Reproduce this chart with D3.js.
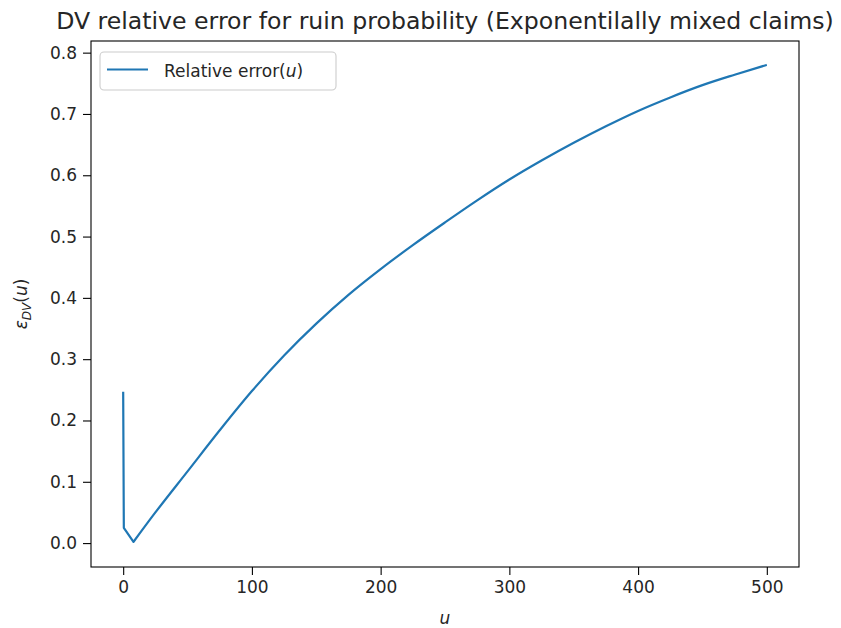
<!DOCTYPE html>
<html>
<head>
<meta charset="utf-8">
<script src="https://cdn.jsdelivr.net/npm/d3@7"></script>
<style>
  body { margin: 0; background: #fff; }
  svg { display: block; }
  text { font-family: "DejaVu Sans", sans-serif; fill: #262626; }
</style>
</head>
<body>
<svg id="chart" width="841" height="628"></svg>
<script>
// Data
const uValues = [0, 0.5, 8, 25, 50, 75, 100, 125, 150, 175, 200, 225, 250, 275, 300, 325, 350, 375, 400, 425, 450, 475, 500];
const errValues = [0.247, 0.025, 0.002, 0.050, 0.117, 0.184, 0.248, 0.306, 0.358, 0.405, 0.447, 0.486, 0.523, 0.559, 0.593, 0.624, 0.653, 0.680, 0.705, 0.727, 0.747, 0.764, 0.780];
const xTicks = [0, 100, 200, 300, 400, 500];
const yTicks = [0.0, 0.1, 0.2, 0.3, 0.4, 0.5, 0.6, 0.7, 0.8];
const titleText = "DV relative error for ruin probability (Exponentilally mixed claims)";
const legendLabel = "Relative error";

const svg = d3.select("#chart");
const pLeft = 91, pRight = 799, pTop = 41, pBottom = 567;

const x = d3.scaleLinear().domain([-25, 525]).range([pLeft, pRight]);
const y = d3.scaleLinear().domain([-0.039, 0.819]).range([pBottom, pTop]);

const data = uValues.map((u, i) => ({u, e: errValues[i]}));
const kinkIdx = 2; // sharp corners up to the minimum, smooth afterwards

const linPart = d3.line().x(d => x(d.u)).y(d => y(d.e))(data.slice(0, kinkIdx + 1));
const smoothPart = d3.line().curve(d3.curveMonotoneX).x(d => x(d.u)).y(d => y(d.e))(data.slice(kinkIdx));

svg.append("path")
  .attr("fill", "none")
  .attr("stroke", "#1f77b4")
  .attr("stroke-width", 2.2)
  .attr("stroke-linejoin", "round")
  .attr("d", linPart + "L" + smoothPart.slice(1));

// axes
const xAxis = svg.append("g").attr("transform", `translate(0,${pBottom})`)
  .call(d3.axisBottom(x).tickValues(xTicks).tickSize(8).tickPadding(6).tickFormat(d3.format("d")));
const yAxis = svg.append("g").attr("transform", `translate(${pLeft},0)`)
  .call(d3.axisLeft(y).tickValues(yTicks).tickSize(8).tickPadding(6).tickFormat(d3.format(".1f")));
[xAxis, yAxis].forEach(g => {
  g.select(".domain").remove();
  g.selectAll(".tick line").attr("stroke", "#000").attr("stroke-width", 1.1);
  g.selectAll(".tick text").attr("font-size", 17).attr("font-family", "DejaVu Sans").attr("fill", "#262626");
});

// frame
svg.append("rect")
  .attr("x", pLeft).attr("y", pTop)
  .attr("width", pRight - pLeft).attr("height", pBottom - pTop)
  .attr("fill", "none").attr("stroke", "#000").attr("stroke-width", 1.1);

// title
svg.append("text")
  .attr("x", (pLeft + pRight) / 2).attr("y", 29)
  .attr("text-anchor", "middle")
  .attr("font-size", 23.6)
  .text(titleText);

// x label
svg.append("text")
  .attr("x", (pLeft + pRight) / 2).attr("y", 624)
  .attr("text-anchor", "middle")
  .attr("font-size", 17)
  .attr("font-style", "italic")
  .text("u");

// y label
const yl = svg.append("text")
  .attr("transform", `translate(27,${(pTop + pBottom) / 2}) rotate(-90)`)
  .attr("text-anchor", "middle")
  .attr("font-size", 17);
yl.append("tspan").attr("font-style", "italic").text("ε");
yl.append("tspan").attr("font-style", "italic").attr("font-size", 12).attr("dy", 4).text("DV");
yl.append("tspan").attr("dy", -4).text("(");
yl.append("tspan").attr("font-style", "italic").text("u");
yl.append("tspan").text(")");

// legend
const lg = svg.append("g");
lg.append("rect")
  .attr("x", 100).attr("y", 52).attr("width", 236).attr("height", 38)
  .attr("rx", 4).attr("ry", 4)
  .attr("fill", "#fff").attr("fill-opacity", 0.8)
  .attr("stroke", "#cccccc").attr("stroke-width", 1.1);
lg.append("line")
  .attr("x1", 107).attr("x2", 148).attr("y1", 69.5).attr("y2", 69.5)
  .attr("stroke", "#1f77b4").attr("stroke-width", 2.2);
const lt = lg.append("text").attr("x", 164).attr("y", 77).attr("font-size", 17);
lt.append("tspan").text(legendLabel + "(");
lt.append("tspan").attr("font-style", "italic").text("u");
lt.append("tspan").text(")");
</script>
</body>
</html>
